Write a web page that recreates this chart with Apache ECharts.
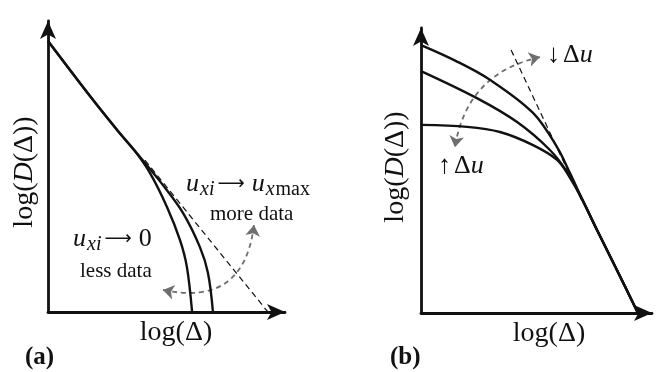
<!DOCTYPE html>
<html>
<head>
<meta charset="utf-8">
<script src="https://cdn.jsdelivr.net/npm/echarts@6/dist/echarts.min.js"></script>
<style>
  html, body { margin: 0; padding: 0; background: #fff; }
  #chart { width: 657px; height: 372px; }
</style>
</head>
<body>
<div id="chart"></div>
<script>
// Panel (a): structure function vs. lag, for two lag-sampling limits
const curveLessData = [[0, 9.31], [1.77, 7.42], [2.95, 6.22], [3.67, 5.53], [4.30, 4.78], [5.02, 3.61], [5.57, 2.47], [5.86, 1.55], [6.08, 0]];
const curveMoreData = [[0, 9.31], [1.77, 7.42], [2.95, 6.22], [3.67, 5.53], [4.85, 4.36], [5.70, 3.40], [6.41, 2.23], [6.75, 1.34], [6.96, 0]];
const powerLawA = [[4.09, 5.22], [9.28, 0]];
const trendArrowA = [[4.85, 0.76], [8.69, 2.99]];

// Panel (b): structure function for three values of Δu
const curveSmallDu = [[0, 9.40], [1.52, 8.84], [2.99, 8.18], [4.85, 7.02], [5.89, 5.82], [6.45, 4.91], [6.97, 4.0], [7.62, 2.91], [8.48, 1.51], [9.39, 0]];
const curveMidDu = [[0, 8.49], [2.42, 7.54], [4.16, 6.70], [5.58, 5.72], [6.36, 4.91], [6.97, 4.0], [7.62, 2.91], [8.48, 1.51], [9.39, 0]];
const curveLargeDu = [[0, 6.60], [1.99, 6.53], [3.42, 6.35], [4.85, 5.89], [5.89, 5.37], [6.45, 4.74], [6.97, 4.0], [7.62, 2.91], [8.48, 1.51], [9.39, 0]];
const powerLawB = [[3.90, 9.23], [7.01, 3.86]];
const trendArrowB = [[5.15, 8.98], [1.47, 5.82]];

// Axis titles and panel tags
const xTitle = 'log(Δ)';
const yTitle = 'log({i|D}(Δ))';
const panelTags = ['(a)', '(b)'];

const SERIF = '"Liberation Serif", "DejaVu Serif", serif';
const INK = '#111';
const GREY = '#6e6e6e';

function axisPair(gridIndex, xShift, yGap, yPad) {
  const axisLine = {
    show: true,
    symbol: ['none', 'arrow'],
    symbolSize: [12, 18],
    lineStyle: { color: INK, width: 2.8 }
  };
  const base = {
    type: 'value', min: 0, max: 10, gridIndex,
    axisTick: { show: false }, axisLabel: { show: false }, splitLine: { show: false },
    axisLine
  };
  return {
    x: Object.assign({}, base, {
      name: xTitle, nameLocation: 'middle', nameGap: 7,
      nameTextStyle: { fontFamily: SERIF, fontSize: 28, color: INK, padding: [0, 0, 0, xShift] }
    }),
    y: Object.assign({}, base, {
      name: yTitle, nameLocation: 'middle', nameGap: yGap,
      nameTextStyle: {
        fontFamily: SERIF, fontSize: 28, color: INK, padding: yPad,
        rich: { i: { fontFamily: SERIF, fontSize: 28, fontStyle: 'italic', color: INK } }
      }
    })
  };
}

const axA = axisPair(0, 19, 9, [0, 11, 0, 0]);
const axB = axisPair(1, 25, 11, [0, 0, 0, 7]);

function curve(data, gi) {
  return {
    type: 'line', xAxisIndex: gi, yAxisIndex: gi, data, smooth: 0.35,
    showSymbol: false, clip: false, silent: true,
    lineStyle: { color: INK, width: 2.4 }
  };
}
function dashed(data, gi) {
  return {
    type: 'line', xAxisIndex: gi, yAxisIndex: gi, data,
    showSymbol: false, clip: false, silent: true,
    lineStyle: { color: INK, width: 1.2, type: [6, 4] }
  };
}
function trend(pair, gi, curveness) {
  return {
    type: 'lines', coordinateSystem: 'cartesian2d', xAxisIndex: gi, yAxisIndex: gi,
    silent: true,
    symbol: ['arrow', 'arrow'], symbolSize: 11,
    lineStyle: { color: GREY, width: 1.8, type: [5, 4], curveness, opacity: 1 },
    data: [{ coords: pair }]
  };
}

const rich = {
  u: { fontFamily: SERIF, fontSize: 26, fontStyle: 'italic', color: INK, lineHeight: 30 },
  s: { fontFamily: SERIF, fontSize: 20, fontStyle: 'italic', color: INK, padding: [12, 0, 0, 1] },
  m: { fontFamily: SERIF, fontSize: 20, color: INK, padding: [12, 0, 0, 1] },
  r: { fontFamily: SERIF, fontSize: 26, color: INK, lineHeight: 30 },
  a: { fontFamily: '"DejaVu Sans", sans-serif', fontSize: 19, color: INK, padding: [0, 7, 0, 3] },
  g: { fontFamily: SERIF, fontSize: 26, color: '#444', padding: [0, 3, 0, 0] }
};
function label(x, y, text, extra) {
  return {
    type: 'text', x, y, silent: true,
    style: Object.assign({ text, rich, fontFamily: SERIF, fontSize: 21, fill: INK, verticalAlign: 'middle', align: 'left' }, extra || {})
  };
}

const option = {
  backgroundColor: '#fff',
  animation: false,
  grid: [
    { left: 48, top: 21, width: 237, height: 291 },
    { left: 421, top: 28, width: 231, height: 285 }
  ],
  xAxis: [axA.x, axB.x],
  yAxis: [axA.y, axB.y],
  series: [
    dashed(powerLawA, 0),
    curve(curveLessData, 0),
    curve(curveMoreData, 0),
    trend(trendArrowA, 0, -0.55),
    dashed(powerLawB, 1),
    curve(curveSmallDu, 1),
    curve(curveMidDu, 1),
    curve(curveLargeDu, 1),
    trend(trendArrowB, 1, -0.34)
  ],
  graphic: [
    label(186, 184, '{u|u}{s|xi}{a|⟶}{u|u}{s|x}{m|max}'),
    label(210, 214, 'more data'),
    label(73, 239, '{u|u}{s|xi}{a|⟶}{r|0}'),
    label(80, 271, 'less data'),
    label(547, 55, '{g|↓}{r|Δ}{u|u}'),
    label(438, 166, '{g|↑}{r|Δ}{u|u}'),
    label(25, 358, panelTags[0], { fontSize: 25, fontWeight: 'bold' }),
    label(390, 358, panelTags[1], { fontSize: 25, fontWeight: 'bold' })
  ]
};

echarts.init(document.getElementById('chart'), null, { renderer: 'canvas' }).setOption(option);
</script>
</body>
</html>
